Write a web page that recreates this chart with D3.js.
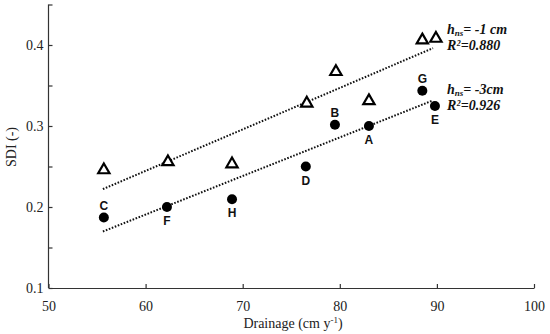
<!DOCTYPE html>
<html><head><meta charset="utf-8">
<script src="https://cdn.jsdelivr.net/npm/d3@7"></script>
<style>body{margin:0;background:#fff}svg{display:block}</style>
</head><body>
<svg id="c" width="550" height="334"></svg>
<script>
// Data
const labels = ["C","F","H","D","B","A","G","E"];
const drainage3 = [55.7, 62.2, 68.9, 76.5, 79.5, 83.0, 88.5, 89.8];
const sdi3 = [0.187, 0.200, 0.2095, 0.250, 0.3015, 0.300, 0.3435, 0.3247];
const labelPos = ["above","below","below","below","above","below","above","below"];
const drainage1 = [55.7, 62.3, 68.9, 76.6, 79.6, 83.0, 88.5, 89.9];
const sdi1 = [0.2457, 0.2556, 0.253, 0.328, 0.367, 0.331, 0.406, 0.408];
const xTicks = [50, 60, 70, 80, 90, 100];
const yTicks = [0.1, 0.15, 0.2, 0.25, 0.3, 0.35, 0.4, 0.45];
const yLabelTicks = [0.1, 0.2, 0.3, 0.4];
const annHead = ["= -1 cm", "= -3cm"];
const annR2 = ["=0.880", "=0.926"];

const svg = d3.select("#c");
const x = d3.scaleLinear().domain([50, 100]).range([48.5, 534]);
const y = d3.scaleLinear().domain([0.1, 0.4]).range([288, 45]);
const serif = "Liberation Serif, Times New Roman, serif";

function fit(xs, ys) {
  const n = xs.length, mx = d3.mean(xs), my = d3.mean(ys);
  let sxy = 0, sxx = 0;
  for (let i = 0; i < n; i++) { sxy += (xs[i]-mx)*(ys[i]-my); sxx += (xs[i]-mx)**2; }
  const b = sxy / sxx, a = my - b*mx;
  return v => a + b*v;
}

// Axes
const xAxis = svg.append("g").attr("transform", `translate(0,${y(0.1)})`)
  .call(d3.axisBottom(x).tickValues(xTicks).tickSizeInner(-4).tickSizeOuter(0).tickPadding(13));
const yAxis = svg.append("g").attr("transform", `translate(${x(50)},0)`)
  .call(d3.axisLeft(y).tickValues(yTicks).tickSizeInner(-4).tickSizeOuter(0).tickPadding(5)
    .tickFormat(d => yLabelTicks.some(t => Math.abs(t-d) < 1e-9) ? d3.format(".1f")(d) : ""));
[xAxis, yAxis].forEach(g => {
  g.attr("font-family", serif).attr("font-size", 14);
  g.selectAll("path,line").attr("stroke", "#333").attr("stroke-width", 1.2);
  g.selectAll("text").attr("font-family", serif).attr("font-size", 14).attr("fill", "#222");
});
yAxis.select(".domain").attr("d", `M0,${y(0.45)}V${y(0.1)}`);

svg.append("text").attr("x", 293).attr("y", 328).attr("text-anchor", "middle")
  .attr("font-family", serif).attr("font-size", 14).attr("fill", "#222")
  .html('Drainage (cm y<tspan dy="-5" font-size="9">-1</tspan><tspan dy="5">)</tspan>');
svg.append("text").attr("transform", `translate(16,147) rotate(-90)`).attr("text-anchor", "middle")
  .attr("font-family", serif).attr("font-size", 14).attr("fill", "#222")
  .text("SDI (-)");

// Trend lines
function trend(xs, ys) {
  const f = fit(xs, ys);
  const x0 = d3.min(xs) - 0.1, x1 = d3.max(xs) - 0.3;
  svg.append("line").attr("x1", x(x0)).attr("y1", y(f(x0))).attr("x2", x(x1)).attr("y2", y(f(x1)))
    .attr("stroke", "#111").attr("stroke-width", 2).attr("stroke-dasharray", "1.6,1.6");
}
trend(drainage1, sdi1);
trend(drainage3, sdi3);

// Triangles
const tri = d3.symbol().type(d3.symbolTriangle).size(55);
svg.append("g").selectAll("path").data(drainage1).join("path")
  .attr("d", tri).attr("transform", (d, i) => `translate(${x(d)},${y(sdi1[i])})`)
  .attr("fill", "#fff").attr("stroke", "#000").attr("stroke-width", 2.2);

// Circles
svg.append("g").selectAll("circle").data(drainage3).join("circle")
  .attr("cx", d => x(d)).attr("cy", (d, i) => y(sdi3[i])).attr("r", 5).attr("fill", "#000");
svg.append("g").selectAll("text").data(labels).join("text")
  .attr("x", (d, i) => x(drainage3[i])).attr("y", (d, i) => y(sdi3[i]) + (labelPos[i] === "above" ? -8 : 18))
  .attr("text-anchor", "middle").attr("font-family", "Liberation Sans, Arial, sans-serif")
  .attr("font-weight", "bold").attr("font-size", 12).attr("fill", "#111").text(d => d);

// Annotations (pieces placed side by side)
function pieces(x0, yb, parts) {
  const g = svg.append("g").attr("font-family", serif).attr("font-style", "italic")
    .attr("font-weight", "bold").attr("fill", "#111");
  let cx = x0;
  parts.forEach(p => {
    const t = g.append("text").attr("x", cx).attr("y", yb + (p.dy || 0))
      .attr("font-size", p.size).text(p.t);
    cx += t.node().getComputedTextLength() + (p.gap || 0);
  });
}
const annY = [34, 94];
annHead.forEach((h, i) => {
  pieces(447, annY[i], [{t: "h", size: 14}, {t: "ns", size: 9, dy: 2}, {t: h, size: 14}]);
  pieces(447, annY[i] + 16, [{t: "R", size: 14, gap: 0.5}, {t: "2", size: 8, dy: -4}, {t: annR2[i], size: 14}]);
});
</script>
</body></html>
